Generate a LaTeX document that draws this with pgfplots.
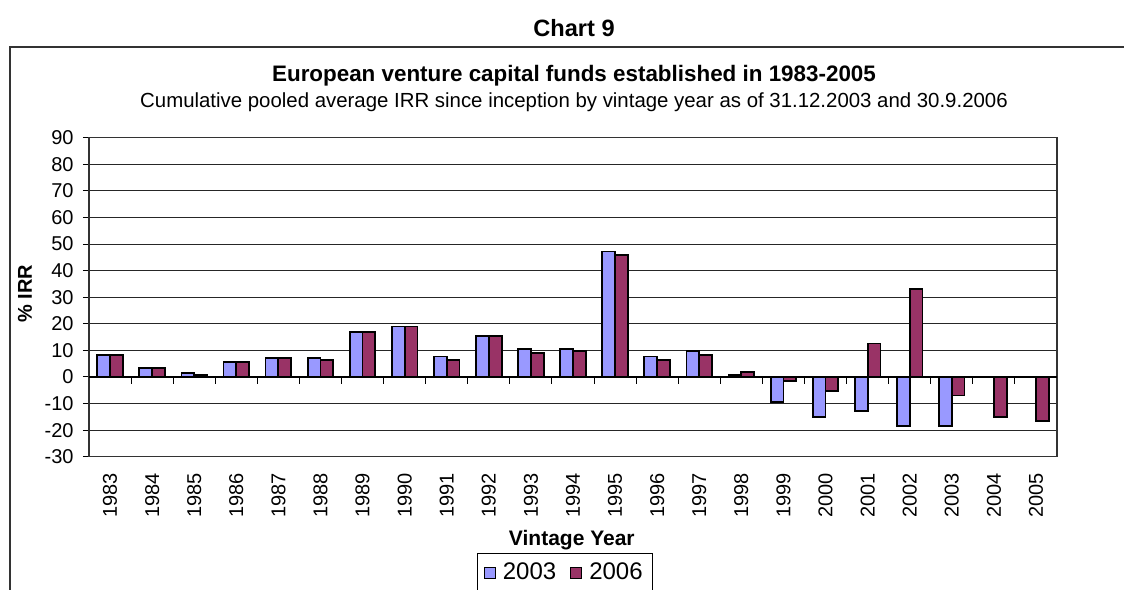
\documentclass[border=0pt]{standalone}
\usepackage{fontspec}
\setmainfont{Liberation Sans}
\usepackage{pgfplots}
\pgfplotsset{compat=1.18}

\definecolor{c2003}{HTML}{9999FF}
\definecolor{c2006}{HTML}{993366}

\begin{document}
\begin{tikzpicture}
% page = 1124 x 589 px, 1 px = 0.5pt
\useasboundingbox (0pt,0pt) rectangle (562pt,294.5pt);
\draw[black!80, line width=0.7pt] (562pt,271pt) -- (5pt,271pt) -- (5pt,-2pt);
\node[font=\fontsize{11.8}{13}\selectfont\bfseries] at (287pt,280.5pt) {Chart 9};
\node[font=\fontsize{11.2}{13}\selectfont\bfseries] at (287pt,256.5pt) {European venture capital funds established in 1983-2005};
\node[font=\fontsize{10.2}{12}\selectfont] at (287pt,243.5pt) {Cumulative pooled average IRR since inception by vintage year as of 31.12.2003 and 30.9.2006};
\node[font=\fontsize{10}{12}\selectfont\bfseries, rotate=90] at (12.5pt,147.75pt) {\% IRR};
\node[font=\fontsize{10.5}{12}\selectfont\bfseries] at (285.9pt,24.5pt) {Vintage Year};

\begin{axis}[
  at={(44.5pt,66.15pt)}, anchor=south west,
  width=484pt, height=159.5pt, scale only axis,
  ybar=0pt, bar width=6.4pt,
  xmin=-0.5, xmax=22.5,
  ymin=-30, ymax=90,
  ytick={-30,-20,...,90},
  xtick={0,...,22},
  xticklabels={1983,1984,1985,1986,1987,1988,1989,1990,1991,1992,1993,1994,1995,1996,1997,1998,1999,2000,2001,2002,2003,2004,2005},
  xtick style={draw=none},
  ytick pos=left,
  ytick style={black, line width=0.5pt},
  tick align=outside, major tick length=3pt,
  xticklabel style={rotate=90, anchor=east, inner xsep=5pt, inner ysep=0pt},
  yticklabel style={inner xsep=4.5pt},
  ymajorgrids, grid style={black!85, line width=0.5pt},
  axis line style={black!80, line width=0.6pt},
  tick label style={font=\fontsize{10}{12}\selectfont},
  /pgf/number format/assume math mode=true,
  legend style={at={(0.492,-0.301)}, anchor=north, draw=black, line width=0.5pt,
    font=\fontsize{12}{14}\selectfont, legend columns=2,
    inner xsep=3pt, inner ysep=3pt,
    /tikz/every odd column/.append style={column sep=1.5pt},
    /tikz/every even column/.append style={column sep=5pt}},
  legend image code/.code={\draw[#1, line width=0.5pt] (0.5pt,-2.8pt) rectangle (6pt,2.8pt);},
]
\addplot[fill=c2003, draw=black, line width=0.9pt] coordinates {
  (0,8.4) (1,3.5) (2,1.4) (3,5.5) (4,7.0) (5,7.0) (6,16.8) (7,19.0)
  (8,7.7) (9,15.3) (10,10.6) (11,10.6) (12,47.2) (13,7.7) (14,9.8) (15,0.6)
  (16,-9.4) (17,-15.1) (18,-12.9) (19,-18.6) (20,-18.6) (21,0) (22,0)
};
\addlegendentry{2003}
\addplot[fill=c2006, draw=black, line width=0.9pt] coordinates {
  (0,8.4) (1,3.5) (2,0.75) (3,5.5) (4,7.0) (5,6.3) (6,16.8) (7,19.0)
  (8,6.3) (9,15.3) (10,9.0) (11,9.8) (12,46.0) (13,6.3) (14,8.4) (15,2.0)
  (16,-1.4) (17,-5.2) (18,12.6) (19,33.2) (20,-7.0) (21,-15.1) (22,-16.5)
};
\addlegendentry{2006}
\draw[black, line width=0.6pt] (axis cs:-0.5,0) -- (axis cs:22.5,0);
\pgfplotsinvokeforeach{0.5,1.5,...,21.5}{
  \draw[black, line width=0.5pt] (axis cs:#1,0) -- (axis cs:#1,-2.5);
}
\end{axis}
\end{tikzpicture}
\end{document}
